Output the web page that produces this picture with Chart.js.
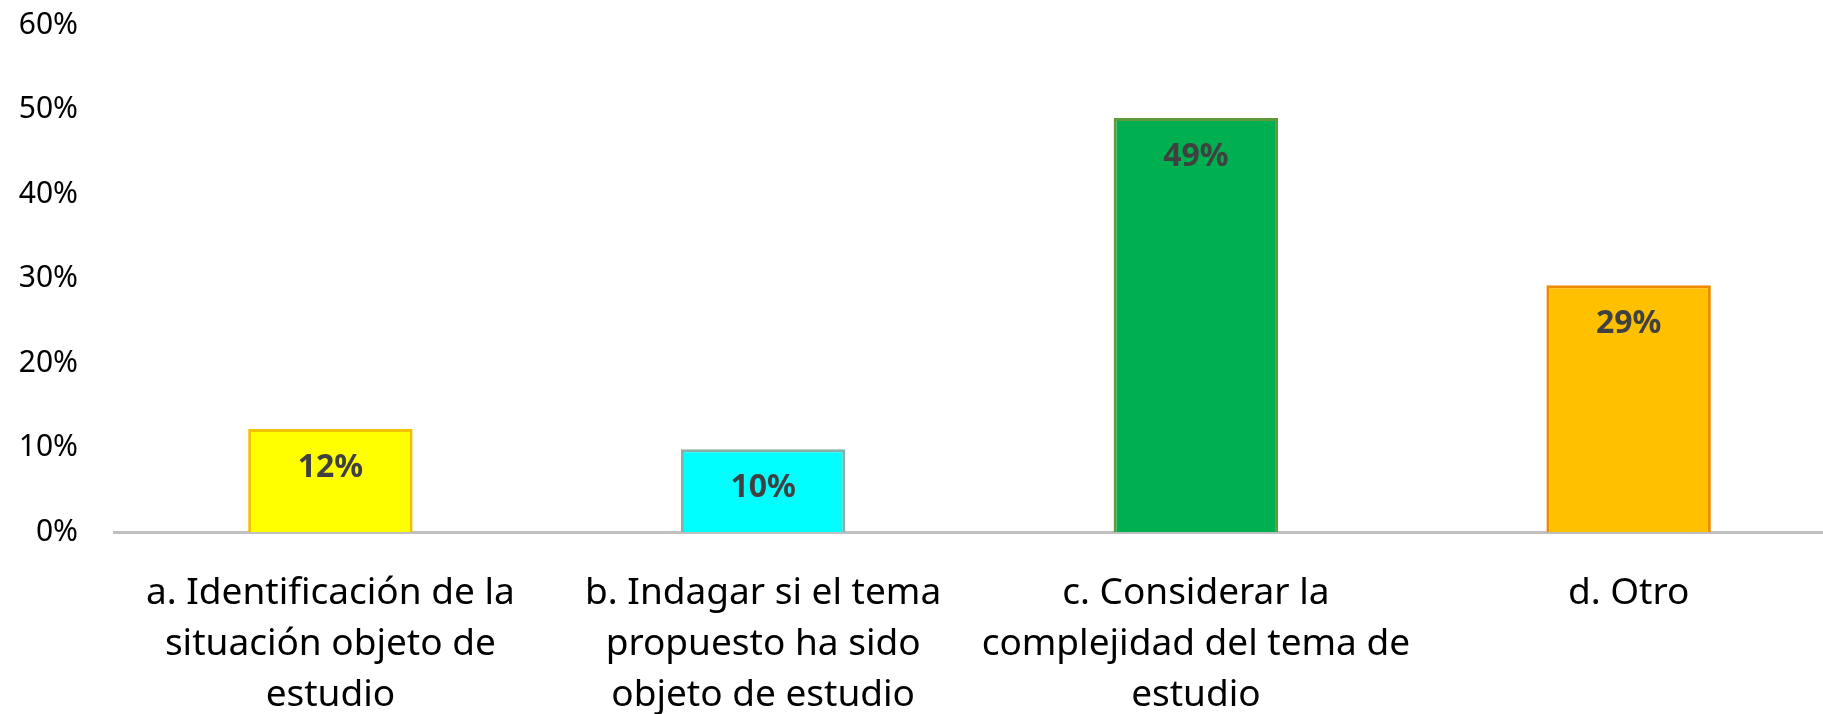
<!DOCTYPE html>
<html>
<head>
<meta charset="utf-8">
<script src="https://cdn.jsdelivr.net/npm/chart.js@4/dist/chart.umd.min.js"></script>
<style>
  html, body { margin: 0; padding: 0; background: #fff; overflow: hidden; }
  #wrap { width: 1823px; height: 714px; overflow: hidden; }
</style>
</head>
<body>
<!-- the plot runs a little past the right edge, as in the original crop -->
<div id="wrap"><canvas id="myChart" width="1845" height="714"></canvas></div>
<script>
const categories = [
    ['a. Identificación de la', 'situación objeto de', 'estudio'],
    ['b. Indagar si el tema', 'propuesto ha sido', 'objeto de estudio'],
    ['c. Considerar la', 'complejidad del tema de', 'estudio'],
    ['d. Otro']
];
const values = [12.2, 9.8, 49.0, 29.2];
const fillColors = ['#FFFF00', '#00FFFF', '#00B050', '#FFC000'];
const edgeColors = ['#F2C200', '#8AAFA8', '#5E9A3A', '#EE8A00'];
const tickValues = [0, 10, 20, 30, 40, 50, 60];

const FONT = '"Noto Sans", "Open Sans", sans-serif';

// value labels inside the top of each bar
const barLabels = {
    id: 'barLabels',
    afterDatasetsDraw(chart) {
        const ctx = chart.ctx;
        const meta = chart.getDatasetMeta(0);
        ctx.save();
        ctx.font = 'bold 32px ' + FONT;
        ctx.fillStyle = '#404040';
        ctx.textAlign = 'center';
        ctx.textBaseline = 'middle';
        meta.data.forEach(function (bar, i) {
            ctx.fillText(Math.round(values[i]) + '%', bar.x, bar.y + 39);
        });
        ctx.restore();
    }
};

const config = {
    type: 'bar',
    data: {
        labels: categories,
        datasets: [{
            data: values,
            backgroundColor: fillColors,
            borderColor: edgeColors,
            borderWidth: 3,
            borderSkipped: 'bottom',
            barPercentage: 0.38,
            categoryPercentage: 1
        }]
    },
    options: {
        responsive: false,
        animation: false,
        layout: { padding: { top: 25, right: 0, left: 0, bottom: 0 } },
        plugins: {
            legend: { display: false },
            tooltip: { enabled: false }
        },
        scales: {
            x: {
                grid: { display: false, drawTicks: false },
                border: { display: true, color: '#BFBFBF', width: 3 },
                ticks: {
                    color: '#000',
                    padding: 36,
                    maxRotation: 0,
                    autoSkip: false,
                    font: { family: FONT, size: 37, lineHeight: 1.38 }
                },
                afterFit(scale) {
                    scale.height = 182;
                    scale.paddingLeft = 0;
                    scale.paddingRight = 0;
                }
            },
            y: {
                min: 0,
                max: 60,
                grid: { display: false, drawTicks: false },
                border: { display: false },
                afterBuildTicks(scale) {
                    scale.ticks = tickValues.map(function (v) { return { value: v }; });
                },
                ticks: {
                    color: '#000',
                    padding: 36,
                    font: { family: FONT, size: 30 },
                    callback: function (v) { return v + '%'; }
                },
                afterFit(scale) {
                    scale.width = 114;
                    scale.paddingTop = 0;
                    scale.paddingBottom = 0;
                }
            }
        }
    },
    plugins: [barLabels]
};

new Chart(document.getElementById('myChart'), config);
</script>
</body>
</html>
